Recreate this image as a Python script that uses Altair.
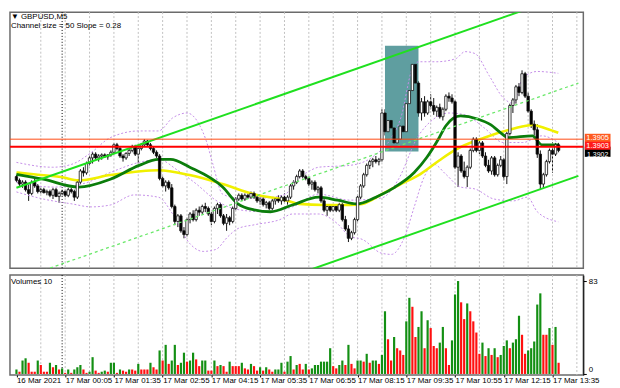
import altair as alt
import pandas as pd

# ---------------- data ----------------
open_ = [
1.38950,1.38940,1.38930,1.38935,1.38915,1.38905,1.38935,1.38925,1.38910,1.38915,
1.38907,1.38910,1.38900,1.38915,1.38897,1.38905,1.38910,1.38900,1.38915,1.38910,
1.38895,1.38935,1.38965,1.38960,1.38985,1.39000,1.39010,1.39000,1.39005,1.39008,
1.39003,1.39008,1.39015,1.39035,1.39025,1.39005,1.39000,1.39012,1.39020,1.39030,
1.39010,1.39025,1.39035,1.39045,1.39035,1.39025,1.39015,1.39005,1.38945,1.38925,
1.38935,1.38920,1.38870,1.38830,1.38845,1.38805,1.38795,1.38835,1.38850,1.38835,
1.38860,1.38855,1.38870,1.38865,1.38850,1.38830,1.38865,1.38875,1.38845,1.38825,
1.38840,1.38830,1.38865,1.38890,1.38900,1.38890,1.38900,1.38895,1.38905,1.38895,
1.38885,1.38890,1.38875,1.38880,1.38865,1.38885,1.38890,1.38885,1.38895,1.38885,
1.38895,1.38925,1.38935,1.38950,1.38965,1.38950,1.38945,1.38930,1.38935,1.38915,
1.38920,1.38885,1.38860,1.38870,1.38860,1.38870,1.38860,1.38875,1.38835,1.38810,
1.38785,1.38800,1.38835,1.38895,1.38925,1.38955,1.38980,1.38990,1.38995,1.38990,
1.38995,1.39120,1.39070,1.39100,1.39080,1.39040,1.39050,1.39085,1.39070,1.39145,
1.39180,1.39250,1.39200,1.39120,1.39150,1.39120,1.39150,1.39140,1.39125,1.39135,
1.39110,1.39130,1.39165,1.39160,1.39150,1.38975,1.39005,1.38965,1.38950,1.38975,
1.39020,1.39050,1.39020,1.39040,1.39005,1.38980,1.38965,1.39000,1.38955,1.38980,
1.38995,1.38950,1.39065,1.39140,1.39155,1.39190,1.39175,1.39225,1.39165,1.39125,
1.39090,1.39075,1.39010,1.38930,1.38955,1.38990,1.39020,1.39010,1.39035]
high_ = [
1.38955,1.38945,1.38940,1.38940,1.38930,1.38940,1.38945,1.38930,1.38920,1.38920,
1.38915,1.38915,1.38920,1.38920,1.38910,1.38915,1.38915,1.38920,1.38920,1.38915,
1.38940,1.38970,1.38975,1.38990,1.39005,1.39015,1.39015,1.39010,1.39012,1.39012,
1.39010,1.39020,1.39040,1.39040,1.39030,1.39010,1.39015,1.39025,1.39035,1.39035,
1.39030,1.39040,1.39050,1.39048,1.39040,1.39030,1.39020,1.39010,1.38950,1.38940,
1.38940,1.38930,1.38875,1.38850,1.38850,1.38815,1.38840,1.38855,1.38860,1.38865,
1.38870,1.38875,1.38880,1.38870,1.38855,1.38870,1.38880,1.38880,1.38850,1.38850,
1.38845,1.38870,1.38895,1.38905,1.38905,1.38905,1.38905,1.38910,1.38910,1.38900,
1.38895,1.38895,1.38885,1.38885,1.38890,1.38895,1.38900,1.38900,1.38905,1.38900,
1.38930,1.38940,1.38955,1.38970,1.38970,1.38955,1.38950,1.38940,1.38940,1.38925,
1.38925,1.38890,1.38875,1.38875,1.38875,1.38875,1.38880,1.38880,1.38845,1.38820,
1.38805,1.38840,1.38900,1.38930,1.38960,1.38985,1.38995,1.39000,1.39005,1.39000,
1.39130,1.39130,1.39110,1.39115,1.39090,1.39055,1.39090,1.39100,1.39150,1.39190,
1.39297,1.39260,1.39205,1.39160,1.39165,1.39155,1.39170,1.39160,1.39140,1.39145,
1.39135,1.39170,1.39175,1.39170,1.39155,1.39015,1.39010,1.38990,1.38980,1.39025,
1.39055,1.39055,1.39045,1.39045,1.39015,1.38995,1.39005,1.39005,1.38985,1.39005,
1.39000,1.39070,1.39145,1.39160,1.39195,1.39200,1.39234,1.39230,1.39175,1.39130,
1.39100,1.39090,1.39020,1.38960,1.38995,1.39025,1.39042,1.39040,1.39040]
low_ = [
1.38935,1.38925,1.38920,1.38910,1.38885,1.38900,1.38920,1.38905,1.38905,1.38905,
1.38900,1.38895,1.38890,1.38895,1.38880,1.38900,1.38895,1.38895,1.38905,1.38885,
1.38890,1.38930,1.38950,1.38955,1.38980,1.38985,1.38995,1.38990,1.38995,1.39000,
1.38995,1.39003,1.39010,1.39020,1.39000,1.38990,1.38995,1.39005,1.39015,1.39005,
1.38985,1.39020,1.39030,1.39030,1.39020,1.39010,1.39000,1.38940,1.38920,1.38910,
1.38915,1.38865,1.38820,1.38815,1.38800,1.38785,1.38790,1.38825,1.38830,1.38830,
1.38845,1.38850,1.38855,1.38845,1.38820,1.38825,1.38850,1.38840,1.38820,1.38805,
1.38820,1.38825,1.38860,1.38885,1.38885,1.38885,1.38890,1.38890,1.38890,1.38880,
1.38875,1.38870,1.38865,1.38860,1.38860,1.38875,1.38880,1.38875,1.38880,1.38875,
1.38890,1.38915,1.38930,1.38945,1.38945,1.38940,1.38925,1.38915,1.38910,1.38905,
1.38880,1.38855,1.38845,1.38855,1.38855,1.38855,1.38855,1.38830,1.38805,1.38775,
1.38780,1.38795,1.38830,1.38890,1.38920,1.38950,1.38970,1.38975,1.38985,1.38980,
1.38990,1.39060,1.39060,1.39070,1.39030,1.39022,1.39045,1.39060,1.39065,1.39135,
1.39175,1.39190,1.39110,1.39100,1.39110,1.39115,1.39130,1.39115,1.39110,1.39105,
1.39100,1.39125,1.39150,1.39145,1.38970,1.38922,1.38960,1.38945,1.38922,1.38970,
1.39015,1.39015,1.39010,1.39000,1.38975,1.38960,1.38955,1.38950,1.38950,1.38975,
1.38940,1.38930,1.39060,1.39120,1.39145,1.39165,1.39170,1.39160,1.39120,1.39080,
1.39060,1.39000,1.38914,1.38920,1.38950,1.38985,1.38960,1.39005,1.39015]
close_ = [
1.38940,1.38930,1.38935,1.38915,1.38905,1.38935,1.38925,1.38910,1.38915,1.38907,
1.38910,1.38900,1.38915,1.38897,1.38905,1.38910,1.38900,1.38915,1.38910,1.38895,
1.38935,1.38965,1.38960,1.38985,1.39000,1.39010,1.39000,1.39005,1.39008,1.39003,
1.39008,1.39015,1.39035,1.39025,1.39005,1.39000,1.39012,1.39020,1.39030,1.39010,
1.39025,1.39035,1.39045,1.39035,1.39025,1.39015,1.39005,1.38945,1.38925,1.38935,
1.38920,1.38870,1.38830,1.38845,1.38805,1.38795,1.38835,1.38850,1.38835,1.38860,
1.38855,1.38870,1.38865,1.38850,1.38830,1.38865,1.38875,1.38845,1.38825,1.38840,
1.38830,1.38865,1.38890,1.38900,1.38890,1.38900,1.38895,1.38905,1.38895,1.38885,
1.38890,1.38875,1.38880,1.38865,1.38885,1.38890,1.38885,1.38895,1.38885,1.38895,
1.38925,1.38935,1.38950,1.38965,1.38950,1.38945,1.38930,1.38935,1.38915,1.38920,
1.38885,1.38860,1.38870,1.38860,1.38870,1.38860,1.38875,1.38835,1.38810,1.38785,
1.38800,1.38835,1.38895,1.38925,1.38955,1.38980,1.38990,1.38995,1.38990,1.38995,
1.39120,1.39070,1.39100,1.39080,1.39040,1.39050,1.39085,1.39070,1.39145,1.39180,
1.39250,1.39200,1.39120,1.39150,1.39120,1.39150,1.39140,1.39125,1.39135,1.39110,
1.39130,1.39165,1.39160,1.39150,1.38975,1.39005,1.38965,1.38950,1.38975,1.39020,
1.39050,1.39020,1.39040,1.39005,1.38980,1.38965,1.39000,1.38955,1.38980,1.38995,
1.38950,1.39065,1.39140,1.39155,1.39190,1.39175,1.39225,1.39165,1.39125,1.39090,
1.39075,1.39010,1.38930,1.38955,1.38990,1.39020,1.39010,1.39035,1.39020]

volume = [4,2,12,14,10,2,2,12,8,2, 2,10,6,8,4,5,1,4,1,4, 6,8,4,1,2,15,3,1,2,3,
          2,10,10,1,4,3,2,4,4,3, 9,4,4,4,10,6,4,21,12,26, 9,12,26,8,10,19,11,12,19,13,
          7,12,12,3,3,12,7,8,7,2, 11,7,7,7,10,5,4,9,7,3, 6,3,6,4,2,4,4,10,2,11,
          16,4,8,9,4,9,4,
          5,8,8,11,11,11,23,7,5,8, 12,8,26,9,5,12,12,11,18,10, 12,12,9,17,56,31,12,33,23,21,
          17,47,68,60,33,42,56,23,48,41, 25,23,28,42,23,8,30,71,83,64, 49,63,56,47,37,18,28,16,23,17,
          23,15,17,25,30,23,28,31,52,35, 18,21,23,29,62,72,35,35,41,26, 42,10]
vol_color = list("GRGGRRRGRR" "RGRGRGRGRG" "GGRRGGRRGG" "RGGRGRRGRR" "GRRRGRRGRG"
                 "RGGRGGRGGR" "RGGRRGRGRR" "GRRRGRRGRR" "GRGRRGGGRG" "GRGRRGR"
                 "GGGGGGGRRG" "GRGRRGGRGR" "GGRGGRRGRR" "RGGRRGGRGR" "RRGGRRGGGR"
                 "RGRRRRGRGR" "GRGGGRGGGR" "RGGGGGRRGR" "GR")

# moving averages (dark green = fast, yellow = slow), read as points
ma_fast_i = [0, 8.8, 20.4, 30.8, 40.3, 46.6, 50.6, 56.9, 67.7, 72.7, 78.0, 83.4, 90.6, 99.2, 105.4,
             111.8, 118.0, 124.3, 130.6, 134.7, 138.8, 141.0, 145.8, 151.4, 155.8, 159.0, 161.5,
             169.4, 172.5, 177.9]
ma_fast_p = [1.38956,1.38943,1.38922,1.38943,1.38980,1.38996,1.38996,1.38975,1.38922,1.38877,
             1.38861,1.38856,1.38874,1.38895,1.38887,1.38877,1.38895,1.38922,1.38961,1.39001,
             1.39054,1.39086,1.39112,1.39104,1.39088,1.39067,1.39054,1.39059,1.39035,1.39035]
ma_slow_i = [0, 5.6, 15.1, 20.4, 30.8, 46.6, 56.9, 67.7, 78.0, 88.4, 92.8, 101.0, 109.5, 113.6,
             120.0, 126.2, 132.5, 138.8, 144.2, 153.6, 163.1, 169.4, 174.1, 177.9]
ma_slow_p = [1.38961,1.38956,1.38948,1.38940,1.38954,1.38967,1.38954,1.38930,1.38903,1.38887,
             1.38877,1.38874,1.38874,1.38877,1.38903,1.38930,1.38956,1.38993,1.39022,1.39054,
             1.39078,1.39088,1.39078,1.39067]

# bands (purple dotted)
bb_up_i = [0, 11.9, 18.2, 24.5, 30.8, 40.3, 46.6, 51.3, 56.0, 60.1, 62.3, 64.5, 67.7, 72.7, 81.2,
           88.4, 91.3, 95.4, 99.2, 109.5, 118.0, 123.1, 126.2, 130.0, 132.2, 137.9, 144.2, 147.3,
           150.5, 155.2, 159.9, 163.1, 166.2, 171.0, 177.9]
bb_up_p = [1.38988,1.38975,1.38983,1.39014,1.39054,1.39072,1.39072,1.39107,1.39120,1.39088,
           1.39046,1.38983,1.38903,1.38893,1.38893,1.38903,1.38940,1.38961,1.38975,1.38980,
           1.39009,1.39054,1.39107,1.39239,1.39257,1.39257,1.39265,1.39284,1.39279,1.39220,
           1.39160,1.39146,1.39213,1.39231,1.39226]
bb_mid_i = [0, 11.9, 21.4, 30.8, 40.3, 46.6, 52.9, 59.1, 65.4, 73.3, 81.2, 90.6, 99.2, 109.5, 119.9,
            125.3, 131.6, 137.0, 142.0, 147.3, 153.6, 159.9, 166.2, 172.5, 177.9]
bb_mid_p = [1.38935,1.38922,1.38930,1.38961,1.38988,1.38996,1.38967,1.38930,1.38887,1.38861,
            1.38856,1.38869,1.38903,1.38887,1.38893,1.38941,1.39054,1.39104,1.39120,1.39115,
            1.39080,1.39041,1.39041,1.39059,1.39041]
bb_lo_i = [0, 8.8, 18.2, 24.5, 30.8, 38.7, 46.6, 51.3, 56.9, 61.3, 65.4, 69.5, 72.7, 78.0, 86.5,
           90.6, 99.2, 105.4, 109.5, 113.6, 119.9, 123.1, 127.5, 130.6, 133.8, 137.0, 141.0, 145.8,
           150.5, 156.8, 163.1, 167.8, 171.0, 177.9]
bb_lo_p = [1.38909,1.38890,1.38877,1.38869,1.38874,1.38901,1.38895,1.38850,1.38771,1.38750,
           1.38755,1.38790,1.38811,1.38821,1.38835,1.38850,1.38850,1.38824,1.38790,1.38782,
           1.38745,1.38742,1.38790,1.38869,1.38948,1.38983,1.38956,1.38922,1.38917,1.38890,
           1.38885,1.38895,1.38856,1.38829]

# regression channel
ch_i = [0, 184.5]
ch_upper = [1.38920, 1.39446]
ch_middle = [1.38674, 1.39200]
ch_lower = [1.38426, 1.38952]

# levels, box, tags
level_prices = [1.3905, 1.3903]
box_i = [121, 132]
box_p = [1.39300, 1.39017]
tag_bid = 1.3902
tag_l2 = 1.3905
tag_l1 = 1.3903

price_ticks = [1.3875, 1.3885, 1.3895, 1.3905, 1.3915, 1.3925, 1.3935]
vol_ticks = [0, 83]
label_idx = [0, 16, 32, 48, 64, 80, 96, 112, 128, 144, 160, 176]
label_txt = ["16 Mar 2021", "17 Mar 00:05", "17 Mar 01:35", "17 Mar 02:55", "17 Mar 04:15",
             "17 Mar 05:35", "17 Mar 06:55", "17 Mar 08:15", "17 Mar 09:35", "17 Mar 10:55",
             "17 Mar 12:15", "17 Mar 13:35"]
grid_idx = [8, 16, 24, 32, 40, 48, 56, 64, 72, 80, 88, 96, 104, 112, 120, 128, 136, 144, 152,
            160, 168, 176, 184]
day_sep = [15]

# ---------------- chart ----------------
FONT = "Liberation Sans"
W, H1, H2 = 580, 259, 101

n = len(close_)
bars = pd.DataFrame({"i": list(range(n)), "open": open_, "high": high_, "low": low_,
                     "close": close_, "vol": volume, "vcol": vol_color})

X = alt.Scale(domain=[-0.5, 184.5], nice=False, zero=False)
Y = alt.Scale(domain=[1.387051, 1.393896], nice=False, zero=False)
YV = alt.Scale(domain=[-0.88, 88.3], nice=False, zero=False)


def xenc():
    return alt.X("i:Q", scale=X, axis=None, title=None)


def yl():
    return alt.Y("p:Q", scale=Y, axis=None, title=None)


def pline(xs, ys):
    return pd.DataFrame({"i": xs, "p": ys})


def linelayer(xs, ys, **kw):
    return alt.Chart(pline(xs, ys)).mark_line(clip=True, **kw).encode(x=xenc(), y=yl())


grid_df = pd.DataFrame({"i": grid_idx})
sep_df = pd.DataFrame({"i": day_sep})

grid_v = alt.Chart(grid_df).mark_rule(color="#c0c0c0", strokeDash=[2, 2], strokeWidth=1).encode(x=xenc())
sep_v = alt.Chart(sep_df).mark_rule(color="#000000", strokeDash=[1, 2], strokeWidth=1).encode(x=xenc())

box = alt.Chart(pd.DataFrame({"i1": [box_i[0]], "i2": [box_i[1]], "p1": [box_p[0]], "p2": [box_p[1]]})).mark_rect(
    color="#5f9ea0").encode(x=alt.X("i1:Q", scale=X, axis=None), x2="i2:Q",
                            y=alt.Y("p1:Q", scale=Y, axis=None), y2="p2:Q")

ch_up = linelayer(ch_i, ch_upper, color="#1fe01f", strokeWidth=2)
ch_lo = linelayer(ch_i, ch_lower, color="#1fe01f", strokeWidth=2)
ch_mid = linelayer(ch_i, ch_middle, color="#6ae86a", strokeWidth=1.3, strokeDash=[3, 3])

purple = "#c48ee8"
bb_u = linelayer(bb_up_i, bb_up_p, color=purple, strokeWidth=1, strokeDash=[2, 2], interpolate="monotone")
bb_m = linelayer(bb_mid_i, bb_mid_p, color=purple, strokeWidth=1, strokeDash=[2, 2], interpolate="monotone")
bb_l = linelayer(bb_lo_i, bb_lo_p, color=purple, strokeWidth=1, strokeDash=[2, 2], interpolate="monotone")

ma_s = linelayer(ma_slow_i, ma_slow_p, color="#f0f000", strokeWidth=2.6, interpolate="monotone")
ma_f = linelayer(ma_fast_i, ma_fast_p, color="#0b7d0b", strokeWidth=2.8, interpolate="monotone")

wick = alt.Chart(bars).mark_rule(color="#111111", strokeWidth=1).encode(
    x=xenc(),
    y=alt.Y("low:Q", scale=Y, title=None,
            axis=alt.Axis(orient="right", values=price_ticks, format=".4f", grid=True,
                          gridColor="#c0c0c0", gridDash=[2, 2], tickSize=3, labelPadding=2,
                          labelFontSize=8, domain=True)),
    y2="high:Q")
body = alt.Chart(bars).mark_bar(size=2.4, stroke="#111111", strokeWidth=0.8).encode(
    x=xenc(), y=alt.Y("open:Q", scale=Y, axis=None, title=None), y2="close:Q",
    fill=alt.condition("datum.close >= datum.open", alt.value("#ffffff"), alt.value("#000000")))

lv_orange = alt.Chart(pd.DataFrame({"p": [level_prices[0]]})).mark_rule(
    color="#ff4a12", strokeWidth=1).encode(y=yl())
lv_red = alt.Chart(pd.DataFrame({"p": [level_prices[1]]})).mark_rule(
    color="#ff0000", strokeWidth=2).encode(y=yl())


def tag(price, fill, shape, dy=0.0, fs=7.5):
    d = pd.DataFrame({"p": [price], "t": ["%.4f" % price]})
    b = alt.Chart(d).mark_point(shape=shape, size=676, filled=True, opacity=1, strokeWidth=0,
                                color=fill).encode(x=alt.value(594.5), y=yl())
    t = alt.Chart(d).mark_text(color="#ffffff", fontSize=fs, font=FONT, dy=dy).encode(
        x=alt.value(594.5), y=yl(), text="t:N")
    return b + t


BOX_L2 = "M-1,-0.42L1,-0.42L1,0.22L-1,0.22Z"
BOX_L1 = "M-1,-0.38L1,-0.38L1,0.24L-1,0.24Z"
BOX_BID = "M-1,-0.29L1,-0.29L1,0.5L-1,0.5Z"
tag_layers = (tag(tag_bid, "#000000", BOX_BID, dy=4.8, fs=7) + tag(tag_l2, "#ff5a1f", BOX_L2, dy=-1.5) +
              tag(tag_l1, "#ff1a1a", BOX_L1, dy=-0.5))

title_df = pd.DataFrame({"t": ["\u25bc GBPUSD,M5", "Channel size = 50 Slope = 0.28"], "row": [0, 1]})
title1 = alt.Chart(title_df[title_df.row == 0]).mark_text(align="left", baseline="middle", fontSize=8,
                                                          font=FONT, color="#000").encode(
    x=alt.value(1), y=alt.value(5), text="t:N")
title2 = alt.Chart(title_df[title_df.row == 1]).mark_text(align="left", baseline="middle", fontSize=8,
                                                          font=FONT, color="#000").encode(
    x=alt.value(1), y=alt.value(14), text="t:N")

main = alt.layer(wick, grid_v, sep_v, box, bb_u, bb_m, bb_l, ma_s, ma_f,
                 body, ch_mid, ch_up, ch_lo, lv_orange, lv_red, tag_layers, title1, title2
                 ).properties(width=W, height=H1)

# volume panel
lab_expr = ("[" + ",".join("'%s'" % v for v in label_txt) + "][indexof([" +
            ",".join(str(k) for k in label_idx) + "], datum.value)]")
XV_AXIS = alt.Axis(values=label_idx, labelExpr=lab_expr, grid=False, domain=False, tickSize=2,
                   labelAlign="left", labelBaseline="top", labelPadding=0, labelFontSize=8,
                   labelFlush=False, labelOverlap=False)


def xv():
    return alt.X("i:Q", scale=X, title=None, axis=XV_AXIS)


grid_v2 = alt.Chart(grid_df).mark_rule(color="#c0c0c0", strokeDash=[2, 2], strokeWidth=1).encode(x=xv())
sep_v2 = alt.Chart(sep_df).mark_rule(color="#000000", strokeDash=[1, 2], strokeWidth=1).encode(x=xv())
vbars = alt.Chart(bars).mark_bar(size=2.2).encode(
    x=xv(),
    y=alt.Y("vol:Q", scale=YV, title=None,
            axis=alt.Axis(orient="right", values=vol_ticks, grid=False, tickSize=3, labelFontSize=8,
                          labelPadding=2, domain=True,
                          labelBaseline={"condition": {"test": "datum.value == 0", "value": "bottom"},
                                         "value": "middle"})),
    y2=alt.datum(0),
    color=alt.condition("datum.vcol == 'G'", alt.value("#138f13"), alt.value("#ff1010")))
vtitle = alt.Chart(pd.DataFrame({"t": ["Volumes 10"]})).mark_text(
    align="left", baseline="middle", fontSize=8, font=FONT, color="#000").encode(
    x=alt.value(1), y=alt.value(7), text="t:N")
vol = alt.layer(grid_v2, sep_v2, vbars, vtitle).properties(width=W, height=H2)

chart = alt.vconcat(main, vol, spacing=3).properties(
    padding={"left": 0, "top": 0, "right": 0, "bottom": 0}, background="#ffffff"
).configure_view(stroke="#6b6b6b", strokeWidth=1.5).configure_axis(
    labelFont=FONT, labelColor="#000000", tickColor="#000000", domainColor="#000000", domainWidth=1)

chart.save("out.html", embed_options={"renderer": "svg", "actions": False})
